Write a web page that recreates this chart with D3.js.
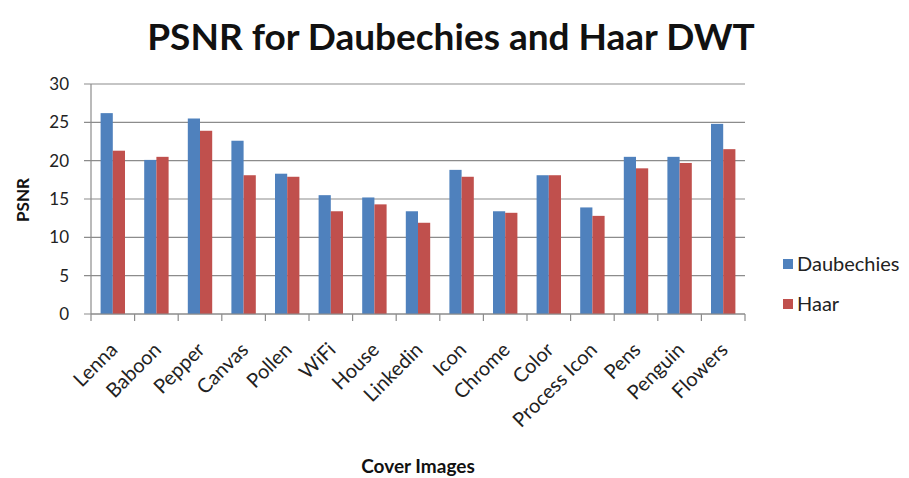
<!DOCTYPE html>
<html>
<head>
<meta charset="utf-8">
<script src="https://cdn.jsdelivr.net/npm/d3@7"></script>
<style>
  html, body { margin: 0; padding: 0; background: #fff; }
  svg { display: block; font-family: Lato, "Open Sans", sans-serif; }
</style>
</head>
<body>
<svg id="chart" width="909" height="478"></svg>
<script>
// Cover images and PSNR values for each wavelet transform
const categories = ["Lenna", "Baboon", "Pepper", "Canvas", "Pollen", "WiFi", "House", "Linkedin",
  "Icon", "Chrome", "Color", "Process Icon", "Pens", "Penguin", "Flowers"];
const daubechies = [26.2, 20.1, 25.5, 22.6, 18.3, 15.5, 15.2, 13.4, 18.8, 13.4, 18.1, 13.9, 20.5, 20.5, 24.8];
const haar       = [21.3, 20.5, 23.9, 18.1, 17.9, 13.4, 14.3, 11.9, 17.9, 13.2, 18.1, 12.8, 19.0, 19.7, 21.5];
const seriesNames = ["Daubechies", "Haar"];
const yTicks = [0, 5, 10, 15, 20, 25, 30];

const colors = ["#4F81BD", "#C0504D"];
const svg = d3.select("#chart");
const plot = { left: 91, right: 745, top: 84, bottom: 314 };

const x = d3.scaleBand().domain(categories).range([plot.left, plot.right]).paddingInner(0).paddingOuter(0);
const y = d3.scaleLinear().domain([0, 30]).range([plot.bottom, plot.top]);
const barW = 12.2;

// Gridlines with short ticks on the left
const gy = svg.append("g");
gy.selectAll("line").data(yTicks).join("line")
  .attr("x1", plot.left - 7).attr("x2", plot.right)
  .attr("y1", d => y(d)).attr("y2", d => y(d))
  .attr("stroke", "#8c8c8c").attr("stroke-width", 1.2);
gy.selectAll("text").data(yTicks).join("text")
  .attr("x", 69).attr("y", d => y(d)).attr("dy", "0.36em")
  .attr("text-anchor", "end").attr("font-size", 17).attr("fill", "#222")
  .text(d => d);

// Bars, one series at a time
[daubechies, haar].forEach((vals, s) => {
  svg.append("g").selectAll("rect").data(categories).join("rect")
    .attr("x", c => x(c) + x.bandwidth() / 2 - barW + s * barW)
    .attr("y", (c, i) => y(vals[i]))
    .attr("width", barW)
    .attr("height", (c, i) => y(0) - y(vals[i]))
    .attr("fill", colors[s]);
});

// Axis lines and category tick marks
svg.append("line").attr("x1", plot.left).attr("x2", plot.left)
  .attr("y1", plot.top).attr("y2", plot.bottom).attr("stroke", "#8c8c8c").attr("stroke-width", 1.2);
svg.append("line").attr("x1", plot.left).attr("x2", plot.right)
  .attr("y1", plot.bottom).attr("y2", plot.bottom).attr("stroke", "#8c8c8c").attr("stroke-width", 1.2);
const bounds = categories.map(c => x(c)).concat([plot.right]);
svg.append("g").selectAll("line").data(bounds).join("line")
  .attr("x1", d => d).attr("x2", d => d)
  .attr("y1", plot.bottom).attr("y2", plot.bottom + 7)
  .attr("stroke", "#8c8c8c").attr("stroke-width", 1.2);

// Category labels rotated
svg.append("g").selectAll("text").data(categories).join("text")
  .attr("transform", c => `translate(${x(c) + x.bandwidth() / 2 + 6},${plot.bottom + 37}) rotate(-45)`)
  .attr("text-anchor", "end").attr("font-size", 20).attr("fill", "#222")
  .text(c => c);

// Title and axis titles
svg.append("text").attr("x", 451).attr("y", 50).attr("text-anchor", "middle")
  .attr("font-size", 37).attr("font-weight", "bold").attr("fill", "#111")
  .text("PSNR for Daubechies and Haar DWT");
svg.append("text").attr("transform", "translate(29,200) rotate(-90)")
  .attr("text-anchor", "middle").attr("font-size", 17).attr("font-weight", "bold").attr("fill", "#111")
  .text("PSNR");
svg.append("text").attr("x", 418).attr("y", 473).attr("text-anchor", "middle")
  .attr("font-size", 19).attr("font-weight", "bold").attr("fill", "#111")
  .text("Cover Images");

// Legend
const legend = svg.append("g").selectAll("g").data(seriesNames).join("g")
  .attr("transform", (d, i) => `translate(783,${259 + i * 40})`);
legend.append("rect").attr("width", 10).attr("height", 10).attr("fill", (d, i) => colors[i]);
legend.append("text").attr("x", 14).attr("y", 5).attr("dy", "0.36em")
  .attr("font-size", 20).attr("fill", "#222").text(d => d);
</script>
</body>
</html>
